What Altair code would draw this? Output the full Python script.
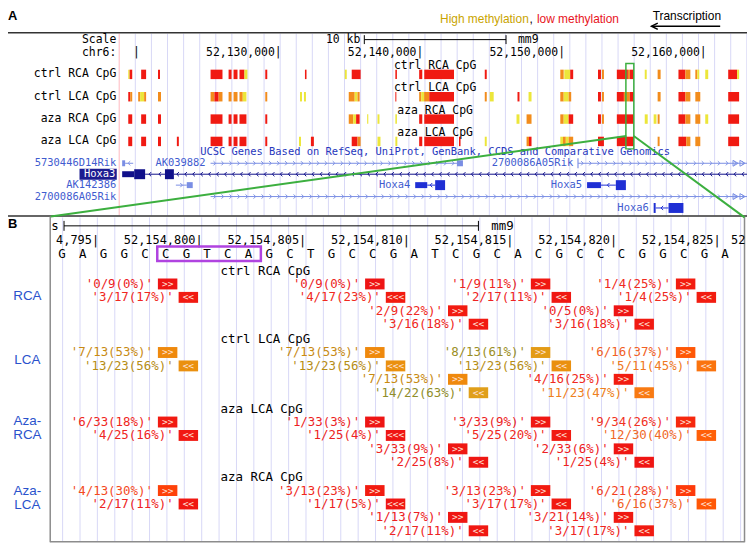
import re
import numpy as np
import pandas as pd
import altair as alt

# ======================= DATA =======================
# ---- Panel A: chr6 positions in kb counted from 52,000,000 (130.0 = 52,130,000)
A_TRACKS = ["ctrl RCA CpG", "ctrl LCA CpG", "aza RCA CpG", "aza LCA CpG"]

CTRL_RCA_SEGS = [
    (119.42, 119.52, "high"), (119.52, 119.70, "low"), (120.33, 120.68, "low"),
    (121.52, 121.66, "low"), (125.23, 126.07, "low"), (126.50, 126.71, "low"),
    (126.85, 127.13, "low"), (127.27, 127.62, "low"), (127.62, 127.83, "high"),
    (129.09, 129.23, "low"), (131.89, 132.00, "low"), (134.70, 134.84, "high"),
    (135.19, 135.82, "low"), (138.27, 138.38, "low"), (139.95, 140.17, "low"),
    (140.31, 142.41, "low"), (144.58, 144.72, "low"), (149.91, 150.15, "mid"),
    (150.19, 150.61, "high"), (150.61, 150.82, "low"), (152.57, 152.78, "low"),
    (152.85, 152.99, "mid"), (153.90, 154.68, "low"), (154.68, 154.82, "mid"),
    (154.82, 155.10, "low"), (155.87, 156.01, "high"), (156.78, 156.99, "mid"),
    (158.25, 158.74, "low"), (158.74, 159.09, "mid"), (159.44, 159.58, "mid"),
    (159.58, 159.72, "high"), (160.14, 160.35, "high"), (161.76, 162.39, "low"),
    (162.39, 162.53, "high"),
]
CTRL_LCA_SEGS = [
    (119.42, 119.56, "low"), (119.56, 119.70, "mid"), (120.12, 120.26, "mid"),
    (120.26, 120.54, "high"), (120.54, 120.68, "mid"), (121.52, 121.73, "mid"),
    (125.23, 125.50, "mid"), (125.50, 125.80, "low"), (125.80, 126.07, "mid"),
    (126.50, 126.71, "mid"), (126.85, 127.13, "mid"), (127.27, 127.50, "mid"),
    (127.50, 127.76, "high"), (129.09, 129.23, "mid"), (131.54, 131.68, "high"),
    (131.82, 131.96, "high"), (134.98, 135.40, "mid"), (135.40, 135.60, "high"),
    (135.60, 135.75, "mid"), (138.27, 138.34, "low"), (139.95, 140.10, "mid"),
    (140.10, 140.30, "high"), (140.30, 140.66, "mid"), (140.66, 142.41, "low"),
    (144.58, 144.72, "mid"), (144.93, 145.21, "high"), (146.89, 147.03, "low"),
    (147.67, 147.88, "high"), (149.91, 150.15, "mid"), (150.15, 150.50, "high"),
    (150.50, 150.68, "mid"), (152.57, 152.78, "low"), (152.85, 152.99, "mid"),
    (153.90, 154.40, "low"), (154.40, 154.82, "mid"), (154.82, 155.10, "low"),
    (156.78, 156.99, "mid"), (158.25, 158.74, "low"), (158.74, 159.09, "mid"),
    (159.44, 159.79, "mid"), (161.76, 162.53, "low"),
]
AZA_RCA_SEGS = [
    (119.42, 119.70, "low"), (120.33, 120.68, "low"), (121.52, 121.73, "low"),
    (125.23, 126.07, "low"), (126.50, 126.71, "low"), (126.85, 127.13, "low"),
    (127.27, 127.76, "low"), (129.09, 129.23, "low"), (134.98, 135.30, "mid"),
    (135.30, 135.50, "high"), (135.50, 135.75, "low"), (136.28, 136.36, "high"),
    (137.01, 137.15, "high"), (138.27, 138.38, "high"), (139.95, 140.17, "low"),
    (140.31, 142.41, "low"), (146.82, 147.03, "high"), (147.53, 147.88, "mid"),
    (149.91, 150.15, "mid"), (150.15, 150.50, "high"), (150.50, 150.82, "low"),
    (152.57, 152.78, "low"), (152.85, 152.99, "mid"), (153.90, 155.10, "low"),
    (155.87, 156.08, "high"), (156.50, 156.70, "high"), (156.78, 156.92, "mid"),
    (158.25, 158.74, "low"), (158.74, 159.09, "mid"), (159.44, 159.79, "mid"),
    (160.14, 160.35, "high"), (161.76, 162.53, "low"),
]
AZA_LCA_SEGS = [
    (119.42, 119.70, "low"), (120.33, 120.68, "low"), (121.52, 121.73, "low"),
    (122.85, 122.99, "low"), (125.23, 126.07, "low"), (126.50, 126.71, "low"),
    (126.85, 127.13, "low"), (127.27, 127.76, "low"), (129.09, 129.23, "low"),
    (131.47, 131.61, "high"), (132.31, 132.52, "low"), (135.19, 135.60, "low"),
    (135.60, 135.82, "mid"), (137.01, 137.22, "high"), (138.27, 138.41, "high"),
    (139.95, 140.17, "low"), (140.31, 142.41, "low"), (142.76, 142.87, "low"),
    (144.58, 144.72, "high"), (147.53, 147.70, "mid"), (147.70, 147.88, "low"),
    (149.91, 150.10, "high"), (150.10, 150.30, "mid"), (150.30, 150.50, "high"),
    (150.50, 150.82, "mid"), (152.57, 152.99, "low"), (153.90, 155.10, "low"),
    (156.78, 156.92, "mid"), (158.25, 158.80, "low"), (158.80, 159.09, "mid"),
    (159.44, 159.79, "mid"), (161.76, 162.53, "low"),
]
A_SEGS = [CTRL_RCA_SEGS, CTRL_LCA_SEGS, AZA_RCA_SEGS, AZA_LCA_SEGS]

A_POS_TICKS_KB = [120, 130, 140, 150, 160]
A_POS_LABELS = ["|", "52,130,000|", "52,140,000|", "52,150,000|", "52,160,000|"]
A_SCALEBAR_KB = (136.08, 146.08)          # 10 kb
A_ZOOM_BOX_KB = (154.54, 155.10)

# gene models: (row, start_kb, end_kb, strand, style)
GENE_INTRONS = [
    ("g1", 119.20, 119.77, "-", "light"),
    ("g1", 125.23, 142.62, "+", "light"),
    ("g1", 151.17, 163.09, "+", "light"),
    ("g2", 120.61, 122.01, "-", "dark"),
    ("g2", 122.64, 163.09, "-", "dark"),
    ("g3", 122.78, 123.55, "+", "light"),
    ("g3", 140.52, 141.08, "-", "mid"),
    ("g3", 152.78, 153.83, "-", "mid"),
    ("g4", 125.23, 163.09, "+", "light"),
    ("g5", 156.64, 157.55, "-", "mid"),
]
# exons: (row, start_kb, end_kb, thickness, style)
GENE_EXONS = [
    ("g1", 118.99, 119.20, "thin", "light"),
    ("g1", 142.62, 143.04, "thin", "light"),
    ("g1", 151.12, 151.20, "thick", "light"),
    ("g2", 118.99, 119.84, "thin", "dark"),
    ("g2", 119.84, 120.61, "thick", "dark"),
    ("g2", 122.01, 122.64, "thick", "dark"),
    ("g3", 123.55, 123.97, "thin", "light"),
    ("g3", 139.67, 140.52, "thin", "mid"),
    ("g3", 141.08, 141.78, "thick", "mid"),
    ("g3", 151.80, 152.78, "thin", "mid"),
    ("g3", 153.83, 154.54, "thick", "mid"),
    ("g5", 156.50, 156.64, "thick", "mid"),
    ("g5", 157.55, 158.60, "thick", "mid"),
]
GENE_NAMES_IN_TRACK = [("g1", 125.23, "AK039882"), ("g1", 151.17, "2700086A05Rik"),
                       ("g3", 139.67, "Hoxa4"), ("g3", 151.80, "Hoxa5"),
                       ("g5", 156.50, "Hoxa6")]
GENE_NAMES_LEFT = [("g1", "5730446D14Rik"), ("g3", "AK142386"), ("g4", "2700086A05Rik")]
GENE_HIGHLIGHT = ("g2", "Hoxa3")
GENE_CONTINUES = [("g1", 162.28), ("g1", 162.77), ("g4", 162.28), ("g4", 162.77)]

# ---- Panel B: base-level view
B_SEQ_START = 52154794
B_SEQ = "GAGGCCGTCAGCTGCCGATCGCACGCCCGGCGA"
B_TICKS = [52154795, 52154800, 52154805, 52154810, 52154815, 52154820, 52154825]
B_TICK_LABELS = ["4,795|", "52,154,800|", "52,154,805|", "52,154,810|",
                 "52,154,815|", "52,154,820|", "52,154,825|"]
B_HIGHLIGHT = (52154799, 52154803)     # C G T C A
B_SCALEBAR = (52154794.0, 52154814.0)  # 20 bases

CPG_C_POS = [52154799, 52154809, 52154813, 52154817, 52154821, 52154824]
CPG_LANE = [0, 0, 1, 0, 1, 0]
REV_GLYPH = ["<<", "<<<", "<<", "<<", "<<", "<<"]

B_TRACKS = ["ctrl RCA CpG", "ctrl LCA CpG", "aza LCA CpG", "aza RCA CpG"]
B_GROUPS = [["RCA"], ["LCA"], ["Aza-", "RCA"], ["Aza-", "LCA"]]
CTRL_RCA_FWD = ["0/9(0%)", "0/9(0%)", "2/9(22%)", "1/9(11%)", "0/5(0%)", "1/4(25%)"]
CTRL_RCA_REV = ["3/17(17%)", "4/17(23%)", "3/16(18%)", "2/17(11%)", "3/16(18%)", "1/4(25%)"]
CTRL_LCA_FWD = ["7/13(53%)", "7/13(53%)", "7/13(53%)", "8/13(61%)", "4/16(25%)", "6/16(37%)"]
CTRL_LCA_REV = ["13/23(56%)", "13/23(56%)", "14/22(63%)", "13/23(56%)", "11/23(47%)", "5/11(45%)"]
AZA_LCA_FWD = ["6/33(18%)", "1/33(3%)", "3/33(9%)", "3/33(9%)", "2/33(6%)", "9/34(26%)"]
AZA_LCA_REV = ["4/25(16%)", "1/25(4%)", "2/25(8%)", "5/25(20%)", "1/25(4%)", "12/30(40%)"]
AZA_RCA_FWD = ["4/13(30%)", "3/13(23%)", "1/13(7%)", "3/13(23%)", "3/21(14%)", "6/21(28%)"]
AZA_RCA_REV = ["2/17(11%)", "1/17(5%)", "2/17(11%)", "3/17(17%)", "3/17(17%)", "6/16(37%)"]
B_LABELS = [(CTRL_RCA_FWD, CTRL_RCA_REV), (CTRL_LCA_FWD, CTRL_LCA_REV),
            (AZA_LCA_FWD, AZA_LCA_REV), (AZA_RCA_FWD, AZA_RCA_REV)]

# ======================= LAYOUT / STYLE =======================
W, H = 744, 541
OX, OY = 8, 8


def px(x):
    return x - OX


def py(y):
    return y - OY


MONO = "DejaVu Sans Mono"
SANS = "Liberation Sans"
FA = 11.5    # panel A text
FG = 10.5    # gene text
FB = 12.5    # panel B text
KB_DOMAIN = [110.933, 163.087]
BP_DOMAIN = [52154791.296, 52154826.962]
YS = alt.Scale(domain=[OY, OY + H], reverse=True, nice=False, zero=False)


def XA(f):
    return alt.X(f"{f}:Q", scale=alt.Scale(domain=KB_DOMAIN, nice=False, zero=False), axis=None)


def XB(f):
    return alt.X(f"{f}:Q", scale=alt.Scale(domain=BP_DOMAIN, nice=False, zero=False), axis=None)


def YY(f):
    return alt.Y(f"{f}:Q", scale=YS, axis=None)


A_SCALE_Y, A_POS_Y = 38.5, 51.5
A_TRACK_Y = [73.0, 95.5, 118.0, 140.5]
A_BAR_H = 9.5
GENE_ROW_Y = {"g1": 162.5, "g2": 173.5, "g3": 184.5, "g4": 196.0, "g5": 207.5}
EXON_H = {"thin": 6.0, "thick": 10.0}
LEVEL_SCALE = alt.Scale(domain=["low", "mid", "high"], range=["#f01a12", "#f28c1c", "#ece63a"])
GENE_STYLE = alt.Scale(domain=["light", "dark", "mid"], range=["#7a8ee4", "#10108a", "#1f2fd4"])
CHEV = alt.Scale(domain=["+", "-"], range=["M-0.5,-1L0.5,0L-0.5,1", "M0.5,-1L-0.5,0L0.5,1"])
LABEL_BLUE = "#3f5ccf"
GREEN = "#3caf3f"

B_TICK_Y, B_SEQ_Y = 239.8, 253.8
B_TRACK_Y = [270.5, 339.5, 409.5, 478.5]
B_LANE_DY = {(0, "+"): 13.5, (0, "-"): 27.0, (1, "+"): 40.5, (1, "-"): 54.0}
B_GROUP_Y = [[296.0], [360.5], [421.5, 436.5], [492.0, 507.0]]
BOX_FILL = alt.Scale(domain=[0, 25, 28, 40, 47, 55],
                     range=["#ee1414", "#f21c10", "#fe3a0a", "#ff5f08", "#f87a12", "#ec8e0e"])
TEXT_FILL = alt.Scale(domain=[0, 25, 30, 40, 47, 53],
                      range=["#ec1c24", "#f02a20", "#f44a1e", "#f06828", "#ee8020", "#c88a12"])

L = []


def text(df, x, y, size=FA, font=MONO, **kw):
    return alt.Chart(df).mark_text(baseline="middle", font=font, fontSize=size, **kw).encode(
        x=x, y=y, text="t:N")


def one():
    return pd.DataFrame({"k": [0]})


# ---------- guide lines ----------
grid_a = pd.DataFrame({"kb": np.arange(119.92, KB_DOMAIN[1], 1.1356)})
L.append(alt.Chart(grid_a).mark_rule(color="#d8d8f6", strokeWidth=1).encode(
    x=XA("kb"), y=alt.value(py(32)), y2=alt.value(py(215))))
L.append(alt.Chart(pd.DataFrame({"kb": [118.78]})).mark_rule(color="#ffb8c0", strokeWidth=1).encode(
    x=XA("kb"), y=alt.value(py(32)), y2=alt.value(py(215))))
grid_b = pd.DataFrame({"bp": np.arange(52154793.932, BP_DOMAIN[1] - 0.3, 0.839)})
L.append(alt.Chart(grid_b).mark_rule(color="#d8d8f6", strokeWidth=1).encode(
    x=XB("bp"), y=alt.value(py(217)), y2=alt.value(py(543))))

# ---------- frames ----------
L.append(alt.Chart(pd.DataFrame({"y": [31.0, 215.5]})).mark_rule(color="#333333", strokeWidth=1.5).encode(
    x=alt.value(0), x2=alt.value(W), y=YY("y")))
for xx in (50.5, 749.5):
    L.append(alt.Chart(one()).mark_rule(color="#8c8c8c", strokeWidth=1.5).encode(
        x=alt.value(px(xx)), y=alt.value(py(216)), y2=alt.value(py(544))))
L.append(alt.Chart(one()).mark_rule(color="#8c8c8c", strokeWidth=1.5).encode(
    x=alt.value(px(50.5)), x2=alt.value(px(749.5)), y=alt.value(py(543.5))))

# ---------- panel A header ----------
L.append(text(pd.DataFrame({"t": ["A"]}), alt.value(px(8)), alt.value(py(14)),
              size=13, font=SANS, fontWeight="bold", align="left", color="black"))
L.append(text(pd.DataFrame({"t": ["High methylation"]}), alt.value(px(443)), alt.value(py(17)),
              size=12, font=SANS, align="left", color="#c9a400"))
L.append(text(pd.DataFrame({"t": [","]}), alt.value(px(533)), alt.value(py(17)),
              size=12, font=SANS, align="left", color="black"))
L.append(text(pd.DataFrame({"t": ["low methylation"]}), alt.value(px(540.5)), alt.value(py(17)),
              size=12, font=SANS, align="left", color="#e8141c"))
L.append(text(pd.DataFrame({"t": ["Transcription"]}), alt.value(px(657)), alt.value(py(14.5)),
              size=12, font=SANS, align="left", color="black"))
L.append(alt.Chart(one()).mark_rule(color="black", strokeWidth=1.5).encode(
    x=alt.value(px(656)), x2=alt.value(px(725)), y=alt.value(py(24.5))))
L.append(alt.Chart(one()).mark_point(
    shape="M1,-1L-1,0L1,1", filled=False, size=40, color="black", strokeWidth=1.5, opacity=1).encode(
    x=alt.value(px(659)), y=alt.value(py(24.5))))

# ---------- scale & position ----------
L.append(text(pd.DataFrame({"t": ["Scale", "chr6:"], "y": [A_SCALE_Y, A_POS_Y]}), alt.value(px(117)), YY("y"),
              align="right", color="black"))
L.append(text(pd.DataFrame({"t": A_POS_LABELS, "kb": A_POS_TICKS_KB, "y": A_POS_Y}), XA("kb"), YY("y"),
              align="right", dx=3.5, color="black"))
sb = pd.DataFrame({"kb0": [A_SCALEBAR_KB[0]], "kb1": [A_SCALEBAR_KB[1]], "y": [A_SCALE_Y - 0.5]})
L.append(alt.Chart(sb).mark_rule(color="black", strokeWidth=1).encode(x=XA("kb0"), x2="kb1", y=YY("y")))
L.append(alt.Chart(pd.DataFrame({"kb": list(A_SCALEBAR_KB)})).mark_rule(color="black", strokeWidth=1).encode(
    x=XA("kb"), y=alt.value(py(33.5)), y2=alt.value(py(42.5))))
L.append(text(pd.DataFrame({"t": ["10 kb"], "kb": [A_SCALEBAR_KB[0]], "y": [A_SCALE_Y]}), XA("kb"), YY("y"),
              align="right", dx=-4, color="black"))
L.append(text(pd.DataFrame({"t": ["mm9"], "kb": [A_SCALEBAR_KB[1]], "y": [A_SCALE_Y]}), XA("kb"), YY("y"),
              align="left", dx=12, color="black"))

# ---------- CpG tracks ----------
rows = []
for tname, ty, segs in zip(A_TRACKS, A_TRACK_Y, A_SEGS):
    for s, e, lev in segs:
        rows.append({"kb0": s, "kb1": e, "level": lev, "y0": ty - A_BAR_H / 2, "y1": ty + A_BAR_H / 2})
bars = pd.DataFrame(rows)
L.append(alt.Chart(bars).mark_rect().encode(
    x=XA("kb0"), x2="kb1", y=YY("y0"), y2="y1",
    color=alt.Color("level:N", scale=LEVEL_SCALE, legend=None)))
L.append(text(pd.DataFrame({"t": A_TRACKS, "y": [v - 8.5 for v in A_TRACK_Y]}), alt.value(px(438)), YY("y"),
              align="center", color="black"))
L.append(text(pd.DataFrame({"t": A_TRACKS, "y": A_TRACK_Y}), alt.value(px(117)), YY("y"),
              align="right", color="black"))

# ---------- genes ----------
L.append(text(pd.DataFrame({"t": ["UCSC Genes Based on RefSeq, UniProt, GenBank, CCDS and Comparative Genomics"]}),
              alt.value(px(438)), alt.value(py(151.5)), size=FG, align="center", color="#2636bc"))
intr = pd.DataFrame([{"kb0": s, "kb1": e, "y": GENE_ROW_Y[r], "style": st}
                     for r, s, e, d, st in GENE_INTRONS])
L.append(alt.Chart(intr).mark_rule(strokeWidth=1).encode(
    x=XA("kb0"), x2="kb1", y=YY("y"), color=alt.Color("style:N", scale=GENE_STYLE, legend=None)))
chev_rows = []
for r, s, e, d, st in GENE_INTRONS:
    n = max(1, int((e - s) / 0.56))
    for k in range(n):
        chev_rows.append({"kb": s + (k + 0.5) * (e - s) / n, "y": GENE_ROW_Y[r], "dir": d, "style": st})
L.append(alt.Chart(pd.DataFrame(chev_rows)).mark_point(filled=False, size=18, strokeWidth=1, opacity=1).encode(
    x=XA("kb"), y=YY("y"),
    shape=alt.Shape("dir:N", scale=CHEV, legend=None),
    color=alt.Color("style:N", scale=GENE_STYLE, legend=None)))
ex = pd.DataFrame([{"kb0": s, "kb1": e, "y0": GENE_ROW_Y[r] - EXON_H[t] / 2, "y1": GENE_ROW_Y[r] + EXON_H[t] / 2,
                    "style": st} for r, s, e, t, st in GENE_EXONS])
L.append(alt.Chart(ex).mark_rect().encode(
    x=XA("kb0"), x2="kb1", y=YY("y0"), y2="y1",
    color=alt.Color("style:N", scale=GENE_STYLE, legend=None)))
cont = pd.DataFrame([{"kb": k, "y": GENE_ROW_Y[r]} for r, k in GENE_CONTINUES])
L.append(alt.Chart(cont).mark_point(shape="triangle-right", filled=False, size=35, strokeWidth=1,
                                    color="#7a8ee4", opacity=1).encode(x=XA("kb"), y=YY("y")))
L.append(text(pd.DataFrame([{"t": n, "kb": k, "y": GENE_ROW_Y[r]} for r, k, n in GENE_NAMES_IN_TRACK]),
              XA("kb"), YY("y"), size=FG, align="right", dx=-5, color=LABEL_BLUE))
L.append(text(pd.DataFrame([{"t": n, "y": GENE_ROW_Y[r]} for r, n in GENE_NAMES_LEFT]),
              alt.value(px(117)), YY("y"), size=FG, align="right", color=LABEL_BLUE))
hy = GENE_ROW_Y[GENE_HIGHLIGHT[0]]
L.append(alt.Chart(pd.DataFrame({"y0": [hy - 5.5], "y1": [hy + 5.5]})).mark_rect(color="#1c1c90").encode(
    x=alt.value(px(80)), x2=alt.value(px(117.5)), y=YY("y0"), y2="y1"))
L.append(text(pd.DataFrame({"t": [GENE_HIGHLIGHT[1]], "y": [hy]}), alt.value(px(116)), YY("y"),
              size=FG, align="right", color="white"))

# ---------- zoom box and connectors ----------
L.append(alt.Chart(pd.DataFrame({"kb0": [A_ZOOM_BOX_KB[0]], "kb1": [A_ZOOM_BOX_KB[1]]})).mark_rect(
    filled=False, color=GREEN, strokeWidth=1.5).encode(
    x=XA("kb0"), x2="kb1", y=alt.value(py(62)), y2=alt.value(py(148))))
L.append(alt.Chart(one()).mark_rule(color=GREEN, strokeWidth=2).encode(
    x=alt.value(px(630.5)), x2=alt.value(px(51)), y=alt.value(py(135)), y2=alt.value(py(216))))
L.append(alt.Chart(one()).mark_rule(color=GREEN, strokeWidth=2).encode(
    x=alt.value(px(638)), x2=alt.value(px(749.5)), y=alt.value(py(135)), y2=alt.value(py(217))))

# ---------- panel B header ----------
L.append(text(pd.DataFrame({"t": ["B"]}), alt.value(px(8)), alt.value(py(224)),
              size=13, font=SANS, fontWeight="bold", align="left", color="black"))
L.append(text(pd.DataFrame({"t": ["s"]}), alt.value(px(51.5)), alt.value(py(225.5)),
              size=FB, align="left", color="black"))
L.append(alt.Chart(pd.DataFrame({"b0": [B_SCALEBAR[0]], "b1": [B_SCALEBAR[1]]})).mark_rule(
    color="black", strokeWidth=1).encode(x=XB("b0"), x2="b1", y=alt.value(py(225.5))))
L.append(alt.Chart(pd.DataFrame({"bp": list(B_SCALEBAR)})).mark_rule(color="black", strokeWidth=1).encode(
    x=XB("bp"), y=alt.value(py(220.5)), y2=alt.value(py(230.5))))
L.append(text(pd.DataFrame({"t": ["mm9"], "bp": [B_SCALEBAR[1]]}), XB("bp"), alt.value(py(225.5)),
              size=FB, align="left", dx=13, color="black"))
tk = pd.DataFrame({"t": B_TICK_LABELS, "bp": [b + 0.5 for b in B_TICKS]})
L.append(text(tk, XB("bp"), alt.value(py(B_TICK_Y)), size=12, align="right", dx=4, color="black"))
L.append(text(pd.DataFrame({"t": ["52"]}), alt.value(px(736)), alt.value(py(B_TICK_Y)),
              size=12, align="left", color="black"))
seq = pd.DataFrame({"t": list(B_SEQ), "bp": [B_SEQ_START + i for i in range(len(B_SEQ))]})
L.append(text(seq, XB("bp"), alt.value(py(B_SEQ_Y)), size=FB, align="center", dx=-2, color="black"))
L.append(alt.Chart(pd.DataFrame({"b0": [B_HIGHLIGHT[0] - 0.5], "b1": [B_HIGHLIGHT[1] + 0.5]})).mark_rect(
    filled=False, color="#b043e0", strokeWidth=2.5).encode(
    x=XB("b0"), x2="b1", y=alt.value(py(B_SEQ_Y - 7.5)), y2=alt.value(py(B_SEQ_Y + 7))))

# ---------- panel B tracks ----------
L.append(text(pd.DataFrame({"t": B_TRACKS, "y": B_TRACK_Y}), alt.value(px(222)), YY("y"),
              size=FB, align="left", color="black"))
grp = pd.DataFrame([{"t": w, "y": y} for words, ys in zip(B_GROUPS, B_GROUP_Y) for w, y in zip(words, ys)])
L.append(text(grp, alt.value(px(27.5)), YY("y"), size=13.5, font=SANS, align="center", color="#2a52cc"))

items = []
for ty, (fwd, rev) in zip(B_TRACK_Y, B_LABELS):
    for i, c in enumerate(CPG_C_POS):
        lane = CPG_LANE[i]
        for strand, lab, pos, glyph in (("+", fwd[i], c, ">>"), ("-", rev[i], c + 1, REV_GLYPH[i])):
            pct = int(re.search(r"\((\d+)%\)", lab).group(1))
            y = ty + B_LANE_DY[(lane, strand)]
            items.append({"bp": pos, "b0": pos - 0.47, "b1": pos + 0.47, "y": y,
                          "y0": y - 5.5, "y1": y + 5.5, "t": f"'{lab}'", "g": glyph, "pct": pct})
it = pd.DataFrame(items)
L.append(alt.Chart(it).mark_rect().encode(
    x=XB("b0"), x2="b1", y=YY("y0"), y2="y1",
    color=alt.Color("pct:Q", scale=BOX_FILL, legend=None)))
L.append(alt.Chart(it).mark_text(baseline="middle", font=MONO, fontSize=9.5, color="#ffe2d8").encode(
    x=XB("bp"), y=YY("y"), text="g:N"))
L.append(alt.Chart(it).mark_text(baseline="middle", font=MONO, fontSize=FB, align="right", dx=-5).encode(
    x=XB("b0"), y=YY("y"), text="t:N",
    color=alt.Color("pct:Q", scale=TEXT_FILL, legend=None)))

chart = alt.layer(*L).resolve_scale(x="independent", color="independent", shape="independent").properties(
    width=W, height=H, padding=0, autosize="none", background="white").configure_view(stroke=None)

chart.save("out.html", embed_options={"renderer": "svg", "actions": False})
